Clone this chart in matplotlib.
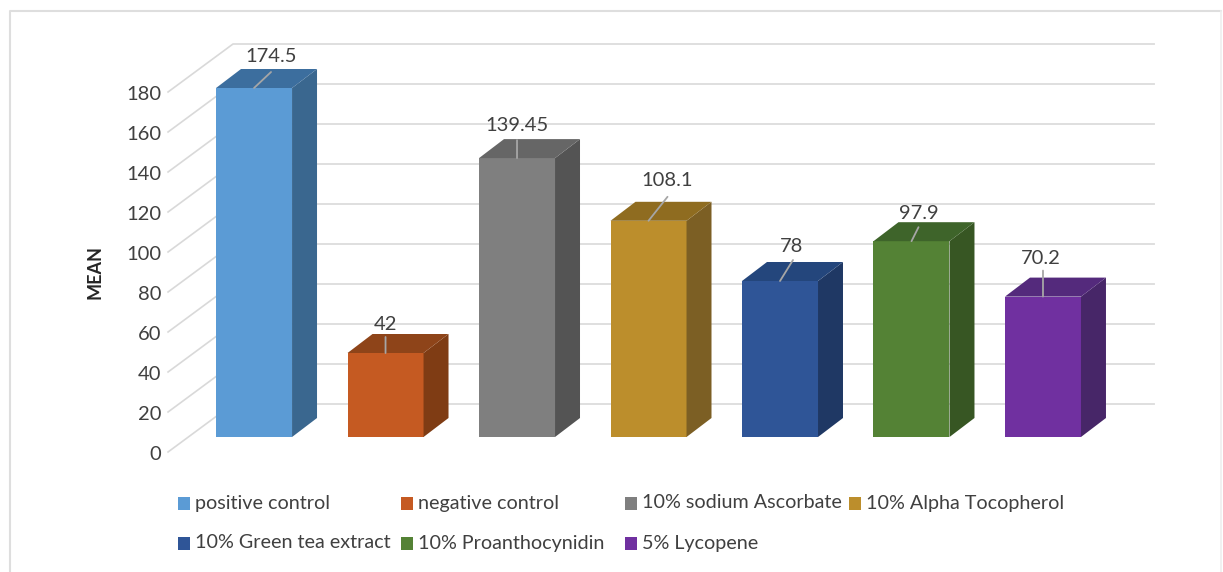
import matplotlib
matplotlib.use("Agg")
import matplotlib.pyplot as plt
from matplotlib.patches import Polygon, Rectangle

plt.rcParams['font.family'] = ['Lato', 'DejaVu Sans']

categories = ["positive control", "negative control", "10% sodium Ascorbate", "10% Alpha Tocopherol",
              "10% Green tea extract", "10% Proanthocynidin", "5% Lycopene"]
values = [174.5, 42, 139.45, 108.1, 78, 97.9, 70.2]
value_labels = ["174.5", "42", "139.45", "108.1", "78", "97.9", "70.2"]
y_ticks = [0, 20, 40, 60, 80, 100, 120, 140, 160, 180]

front_colors = ["#5B9BD5", "#C55A22", "#7F7F7F", "#BC8E2C", "#2F5597", "#548235", "#7030A0"]
side_colors = ["#3A678F", "#7F3C14", "#545454", "#7C5F24", "#1F3864", "#375623", "#472668"]
top_colors = ["#3C6E9E", "#8E4419", "#666666", "#8F6C20", "#24467C", "#3E642A", "#542A7C"]

# offsets in pixels from the front top centre of each bar
leader_off = [(17, 16), (0, 16), (0, 18), (19, 24), (13, 21), (7, 14), (0, 26)]
label_off = [(17, 31), (0, 28), (0, 33), (19, 40), (12, 35), (7, 28), (-2, 38)]

# legend marker left edge and row centre, in pixels
legend_x = [178, 401, 625, 849, 178, 401, 625]
legend_y = [503, 503, 503, 503, 543, 543, 543]

bar_w = 0.578
# depth of the box and of the bars, in data units (dx in categories, dy in values)
box_dx, box_dy = 0.494, 24
bar_dx, bar_dy = 0.19, 9.5
front_dx, front_dy = -0.654, -7.5  # front plane of the chart relative to bars
right_x = 6.845

W, H = 1223, 572
fig = plt.figure(figsize=(12.23, 5.72), dpi=100)
ax = fig.add_axes([0, 0, 1, 1])
ax.set_xlim(-1.932, 7.369)
ax.set_ylim(-67.5, 218.5)
ax.axis("off")

# frame of the chart
fig.add_artist(plt.Line2D([10.5 / W, 10.5 / W, 1221 / W], [0, 1 - 10.5 / H, 1 - 10.5 / H],
                          color="#DEDEDE", lw=1.5))
fig.add_artist(plt.Line2D([1221 / W, 1221 / W], [0, 1 - 10.5 / H], color="#EFEFEF", lw=1.2))

for t in y_ticks:
    ax.plot([front_dx, front_dx + box_dx, right_x], [t + front_dy, t + front_dy + box_dy, t + front_dy + box_dy],
            color="#D9D9D9", lw=1.2, zorder=1)
    ax.text(front_dx - 0.05, t + front_dy - 1, str(t), ha="right", va="center", fontsize=14.5, color="#404040")

ax.text(-1.207, 82.5, "MEAN", rotation=90, ha="center", va="center", fontsize=13, fontweight="bold", color="#262626")

for i, v in enumerate(values):
    x0, x1 = i - bar_w / 2, i + bar_w / 2
    ax.add_patch(Polygon([(x0, 0), (x1, 0), (x1, v), (x0, v)], color=front_colors[i], lw=0, zorder=3))
    ax.add_patch(Polygon([(x1, 0), (x1 + bar_dx, bar_dy), (x1 + bar_dx, v + bar_dy), (x1, v)],
                         color=side_colors[i], lw=0, zorder=3))
    ax.add_patch(Polygon([(x0, v), (x1, v), (x1 + bar_dx, v + bar_dy), (x0 + bar_dx, v + bar_dy)],
                         color=top_colors[i], lw=0, zorder=3))
    ax.annotate("", xy=(i, v), xytext=leader_off[i], textcoords="offset pixels",
                arrowprops=dict(arrowstyle="-", color="#A6A6A6", lw=1.3, shrinkA=0, shrinkB=0), zorder=4)
    ax.annotate(value_labels[i], xy=(i, v), xytext=label_off[i], textcoords="offset pixels",
                ha="center", va="center", fontsize=14.5, color="#404040", zorder=5)

# legend columns in the original are uneven, so it is placed by hand
for i, name in enumerate(categories):
    fig.add_artist(Rectangle((legend_x[i] / W, 1 - (legend_y[i] + 6.5) / H), 12 / W, 13 / H,
                             transform=fig.transFigure, color=front_colors[i], lw=0))
    fig.text((legend_x[i] + 17) / W, 1 - legend_y[i] / H, name, ha="left", va="center",
             fontsize=14.2, color="#404040")

fig.savefig("out.png", dpi=100)
